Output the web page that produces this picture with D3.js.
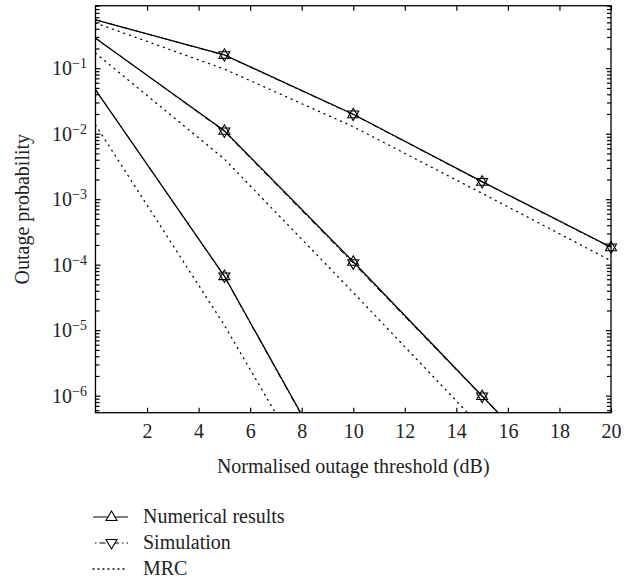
<!DOCTYPE html>
<html>
<head>
<meta charset="utf-8">
<script src="https://cdn.jsdelivr.net/npm/d3@7"></script>
<style>
body { margin: 0; background: #fff; }
text { font-family: "Liberation Serif", "DejaVu Serif", serif; fill: #222; }
</style>
</head>
<body>
<svg id="chart"></svg>
<script>
// threshold values (dB) the curves were computed at
var snr = [0, 5, 10, 15, 20];

// numerical results, three curves (top, middle, bottom)
var numTop = [0.547, 0.16, 0.0198, 0.00185, 1.85e-4];
var numMid = [0.287, 0.0111, 1.11e-4, 9.9e-7, 8.7e-9];
var numLow = [0.0467, 6.7e-5, 2.0e-8, 6.0e-12, 2.0e-15];

// simulation, nearly on top of the numerical curves
var simTop = [0.55, 0.158, 0.0196, 0.00183, 1.83e-4];
var simMid = [0.29, 0.0108, 1.05e-4, 9.7e-7, 8.5e-9];
var simLow = [0.047, 6.6e-5, 1.9e-8, 5.8e-12, 1.9e-15];

// MRC reference curves
var mrcTop = [0.49, 0.097, 0.0128, 0.00123, 1.15e-4];
var mrcMid = [0.17, 4.1e-3, 3.76e-5, 3.2e-7, 2.5e-9];
var mrcLow = [0.0136, 1.19e-5, 5.0e-9, 2.0e-12, 8.0e-16];

var xTicks = [2, 4, 6, 8, 10, 12, 14, 16, 18, 20];
var yDecades = [1e-6, 1e-5, 1e-4, 1e-3, 1e-2, 1e-1];
var legendLabels = ["Numerical results", "Simulation", "MRC"];

var width = 641,
    height = 584,
    fontSize = "20px";

var svg = d3.select("#chart")
    .attr("width", width)
    .attr("height", height);

var x = d3.scaleLinear()
    .domain([0, 20])
    .range([95.5, 611]);

var y = d3.scaleLog()
    .domain([5.5e-7, 0.9])
    .range([412.7, 5.7]);

svg.append("clipPath")
    .attr("id", "clip")
  .append("rect")
    .attr("x", x.range()[0])
    .attr("y", y.range()[1])
    .attr("width", x.range()[1] - x.range()[0])
    .attr("height", y.range()[0] - y.range()[1]);

// minor log ticks (2..9 times each decade)
var yMinor = [];
yDecades.concat([1e-7]).forEach(function(d) {
  for (var k = 2; k <= 9; k++) {
    var v = d * k;
    if (v >= y.domain()[0] && v <= y.domain()[1]) yMinor.push(v);
  }
});

var line = d3.line()
    .x(function(d) { return x(d[0]); })
    .y(function(d) { return y(d[1]); });

var plot = svg.append("g").attr("clip-path", "url(#clip)");

function drawCurve(values, dash, w) {
  plot.append("path")
      .datum(d3.zip(snr, values))
      .attr("fill", "none")
      .attr("stroke", "#000")
      .attr("stroke-width", w)
      .attr("stroke-dasharray", dash)
      .attr("stroke-linecap", dash === "1,5" ? "round" : "butt")
      .attr("d", line);
}

[mrcTop, mrcMid, mrcLow].forEach(function(v) { drawCurve(v, "1,5", 1.3); });
[simTop, simMid, simLow].forEach(function(v) { drawCurve(v, "6,3,1.5,3", 1); });
[numTop, numMid, numLow].forEach(function(v) { drawCurve(v, null, 1.3); });

// triangle markers: up for numerical, down for simulation
function tri(up) {
  var h = up ? -1 : 1;
  return "M0," + (6 * h) + "L5.5," + (-3.5 * h) + "L-5.5," + (-3.5 * h) + "Z";
}

function drawMarkers(values, up) {
  var pts = d3.zip(snr, values).filter(function(d) {
    return d[0] > 0 && d[1] >= y.domain()[0];
  });
  svg.append("g").selectAll("path")
      .data(pts)
    .enter().append("path")
      .attr("transform", function(d) { return "translate(" + x(d[0]) + "," + y(d[1]) + ")"; })
      .attr("d", tri(up))
      .attr("fill", "none")
      .attr("stroke", "#000")
      .attr("stroke-width", 1.1);
}

[numTop, numMid, numLow].forEach(function(v) { drawMarkers(v, true); });
[simTop, simMid, simLow].forEach(function(v) { drawMarkers(v, false); });

// frame and axes, ticks point inward
var x0 = x.range()[0], x1 = x.range()[1], y0 = y.range()[0], y1 = y.range()[1];

var gx = svg.append("g")
    .attr("transform", "translate(0," + y0 + ")")
    .call(d3.axisBottom(x).tickValues(xTicks).tickSizeInner(-5).tickSizeOuter(0).tickPadding(11));

svg.append("g")
    .attr("transform", "translate(0," + y1 + ")")
    .call(d3.axisTop(x).tickValues(xTicks).tickSizeInner(-5).tickSizeOuter(0).tickFormat(""));

var gy = svg.append("g")
    .attr("transform", "translate(" + x0 + ",0)")
    .call(d3.axisLeft(y).tickValues(yDecades).tickSizeInner(-5).tickSizeOuter(0).tickPadding(8.5).tickFormat(""));

svg.append("g")
    .attr("transform", "translate(" + x0 + ",0)")
    .call(d3.axisLeft(y).tickValues(yMinor).tickSizeInner(-4).tickSizeOuter(0).tickFormat(""));

svg.append("g")
    .attr("transform", "translate(" + x1 + ",0)")
    .call(d3.axisRight(y).tickValues(yDecades).tickSizeInner(-5).tickSizeOuter(0).tickFormat(""));

svg.append("g")
    .attr("transform", "translate(" + x1 + ",0)")
    .call(d3.axisRight(y).tickValues(yMinor).tickSizeInner(-4).tickSizeOuter(0).tickFormat(""));

svg.selectAll(".domain").remove();
svg.selectAll(".tick line").attr("stroke", "#000").attr("stroke-width", 1.2);

svg.append("rect")
    .attr("x", x0).attr("y", y1)
    .attr("width", x1 - x0).attr("height", y0 - y1)
    .attr("fill", "none")
    .attr("stroke", "#000")
    .attr("stroke-width", 1.3);

gx.selectAll("text")
    .attr("fill", "#222")
    .style("font-family", '"Liberation Serif", serif')
    .style("font-size", fontSize);

// power-of-ten labels with superscript exponent
gy.selectAll(".tick text")
    .attr("dy", "0.32em")
    .style("font-family", '"Liberation Serif", serif')
    .style("font-size", fontSize)
    .attr("fill", "#222")
    .each(function(d) {
      var t = d3.select(this);
      t.append("tspan").text("10");
      t.append("tspan")
          .attr("dy", "-0.5em")
          .style("font-size", "14px")
          .text("\u2212" + Math.round(-Math.log10(d)));
    });

svg.append("text")
    .attr("transform", "translate(29," + ((y0 + y1) / 2) + ") rotate(-90)")
    .attr("text-anchor", "middle")
    .style("font-size", fontSize)
    .text("Outage probability");

svg.append("text")
    .attr("x", (x0 + x1) / 2)
    .attr("y", 473)
    .attr("text-anchor", "middle")
    .style("font-size", fontSize)
    .text("Normalised outage threshold (dB)");

// legend
var lg = svg.append("g").attr("transform", "translate(93,517)");
var styles = [null, "1.5,3,6,3", "1,4"];

legendLabels.forEach(function(label, i) {
  var row = lg.append("g").attr("transform", "translate(0," + (i * 26) + ")");
  row.append("line")
      .attr("x1", i === 1 ? 2 : 0).attr("x2", 35)
      .attr("stroke", "#000")
      .attr("stroke-width", i === 2 ? 1.3 : 1.1)
      .attr("stroke-dasharray", styles[i])
      .attr("stroke-linecap", i === 2 ? "round" : "butt");
  if (i < 2) {
    row.append("path")
        .attr("transform", "translate(18.5,0)")
        .attr("d", tri(i === 0))
        .attr("fill", "#fff")
        .attr("stroke", "#000")
        .attr("stroke-width", 1.1);
  }
  row.append("text")
      .attr("x", 50)
      .attr("dy", "0.32em")
      .style("font-size", fontSize)
      .text(label);
});
</script>
</body>
</html>
